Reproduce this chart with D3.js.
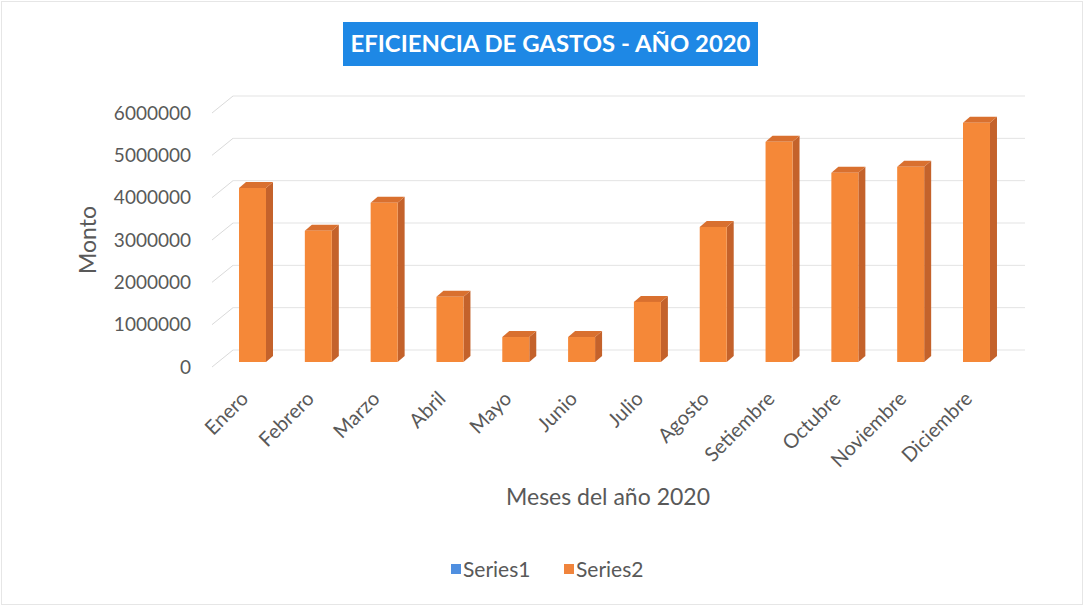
<!DOCTYPE html>
<html><head><meta charset="utf-8">
<script src="https://cdn.jsdelivr.net/npm/d3@7"></script>
<style>html,body{margin:0;padding:0;background:#fff;}svg{display:block;font-family:Lato,"Open Sans",sans-serif;}</style>
</head><body>
<svg id="c" width="1084" height="607"></svg>
<script>
const months = ["Enero","Febrero","Marzo","Abril","Mayo","Junio","Julio","Agosto","Setiembre","Octubre","Noviembre","Diciembre"];
const series2 = [4110000,3100000,3760000,1540000,590000,590000,1420000,3190000,5200000,4470000,4610000,5650000];
const yTicks = [0,1000000,2000000,3000000,4000000,5000000,6000000];
const legendItems = ["Series1","Series2"];
const legendColors = ["#4F8FE0","#F0843C"];
const titleText = "EFICIENCIA DE GASTOS - AÑO 2020";

const svg = d3.select("#c");
const W = 1084, H = 607;
svg.append("rect").attr("x",1.5).attr("y",1.5).attr("width",W-3).attr("height",H-4)
  .attr("fill","#fff").attr("stroke","#e6e6e6");

// geometry
const depthX = 21, depthY = -17;   // wall offset
const x = d3.scaleBand().domain(months).range([219.6,1009.4]).paddingInner(0.59).paddingOuter(0.295);
const yFront = d3.scaleLinear().domain([0,6000000]).range([367,113]);
const yBar = d3.scaleLinear().domain([0,6000000]).range([362,108]);
const wallLeft = 212 + depthX, wallRight = 1025;

// gridlines: floor diagonal + back wall line
const g = svg.append("g");
yTicks.forEach(t => {
  const yf = yFront(t), yb = yf + depthY;
  g.append("line").attr("x1",212).attr("y1",yf).attr("x2",wallLeft).attr("y2",yb)
    .attr("stroke","#dadada").attr("stroke-width",1);
  g.append("line").attr("x1",wallLeft).attr("y1",yb).attr("x2",wallRight).attr("y2",yb)
    .attr("stroke","#e3e3e3").attr("stroke-width",1);
});

// y labels
const yAxis = d3.axisLeft(yFront).tickValues(yTicks).tickFormat(d3.format("d")).tickSize(0).tickPadding(0);
const ya = svg.append("g").attr("transform","translate(191,0)").call(yAxis);
ya.select(".domain").remove();
ya.selectAll("text").attr("font-size",19).attr("fill","#595959").attr("font-family","Lato,'Open Sans',sans-serif");

// bars (3D)
const dx = 7, dy = -6;
const bw = x.bandwidth();
const bars = svg.append("g").selectAll("g").data(series2).join("g");
bars.each(function(v,i){
  const gg = d3.select(this);
  const x0 = x(months[i]), x1 = x0 + bw, yt = yBar(v), yb = yBar(0);
  gg.append("path").attr("d",`M${x1},${yt}L${x1+dx},${yt+dy}L${x1+dx},${yb+dy}L${x1},${yb}Z`).attr("fill","#C4622B");
  gg.append("path").attr("d",`M${x0},${yt}L${x0+dx},${yt+dy}L${x1+dx},${yt+dy}L${x1},${yt}Z`).attr("fill","#D9702F");
  gg.append("rect").attr("x",x0).attr("y",yt).attr("width",bw).attr("height",yb-yt).attr("fill","#F58838");
});

// x labels
const xl = svg.append("g");
months.forEach(m => {
  const cx = x(m) + bw/2;
  xl.append("text").attr("transform",`translate(${cx-3},${400}) rotate(-45)`)
    .attr("text-anchor","end").attr("font-size",20).attr("fill","#595959").text(m);
});

// axis titles
svg.append("text").attr("transform","translate(96,240) rotate(-90)").attr("text-anchor","middle")
  .attr("font-size",23).attr("fill","#595959").text("Monto");
svg.append("text").attr("x",608).attr("y",505).attr("text-anchor","middle")
  .attr("font-size",23).attr("fill","#595959").text("Meses del año 2020");

// title
svg.append("rect").attr("x",343).attr("y",22).attr("width",415).attr("height",44).attr("fill","#1E88E5");
const tt = svg.append("text").attr("x",550.5).attr("y",52).attr("text-anchor","middle")
  .attr("font-size",22).attr("font-weight","bold").attr("fill","#fff").text(titleText);
const tl = tt.node().getComputedTextLength();
if (tl > 0) tt.attr("textLength",400).attr("lengthAdjust","spacingAndGlyphs");

// legend
const legX = [451, 564];
legendItems.forEach((s,i)=>{
  svg.append("rect").attr("x",legX[i]).attr("y",564).attr("width",10).attr("height",10).attr("fill",legendColors[i]);
  svg.append("text").attr("x",legX[i]+12).attr("y",577).attr("font-size",21).attr("fill","#595959").text(s);
});
</script>
</body></html>
